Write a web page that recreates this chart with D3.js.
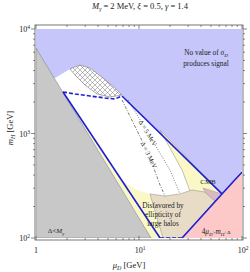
<!DOCTYPE html>
<html><head><meta charset="utf-8">
<script src="https://cdn.jsdelivr.net/npm/d3@7"></script>
<style>body{margin:0;background:#fff} svg{display:block} text{font-family:"Liberation Serif","DejaVu Serif",serif;fill:#222}</style>
</head><body>
<svg id="c" width="250" height="272"></svg>
<script>
// axis ticks
const xMajor=[1,10,100];
const yMajor=[100,1000,10000];
// regions, points are [mu_D (GeV), m_H (GeV)]
const blueRegion=[[1,10000],[100,10000],[100,447],[63.9,264],[6.84,2336],[5.85,2725],[4.47,3398],[3.34,4236],[2.67,4524],[2.14,4143],[1.53,3398],[1,3398]];
const grayRegion=[[1,100],[1,6580],[13.1,100]];
const yellowBand=[[1.64,2977],[13.1,100],[16.0,100],[1.83,2496]];
const lowerYellow=[[6.69,359],[16.0,100],[17.1,100],[12.79,264],[9.15,294]];
const cmbRegion=[[16.0,1080],[63.9,264],[54.7,226],[32.7,250],[26.2,447]];
const tanRegion=[[12.79,264],[17.1,100],[26.2,100],[54.7,226],[43.74,275],[32.7,288],[25.0,264],[17.88,252]];
const mauveRegion=[[41.8,301],[63.9,264],[54.7,226],[43.74,275]];
const pinkRegion=[[26.2,100],[100,428],[100,100]];
const hatchRegion=[[2.14,4143],[2.67,4524],[3.34,4236],[4.47,3398],[5.85,2725],[6.84,2336],[5.23,2236],[3.91,2388],[2.99,2912],[2.445,3550]];
const blueLineLeft=[[1.83,2496],[16.0,100]];
const blueDashTop=[[1.83,2496],[2.39,2388],[3.34,2285],[4.68,2187],[5.85,2139],[6.84,2285]];
const blueLineRight=[[6.84,2285],[63.9,264]];
const blueDashBottom=[[16.0,100],[26.2,100]];
const blueLinePink=[[26.2,100],[63.9,264],[100,428]];
const delta3Line=[[6.84,2093],[12.5,623],[16.0,321],[17.9,252]];
const delta5Line=[[7.82,2093],[12.23,1011],[20.0,447],[25.0,264]];

const svg=d3.select("#c");
const x=d3.scaleLog().domain([1,100]).range([36,242]);
const y=d3.scaleLog().domain([100,10000]).range([238,29]);
const line=d3.line().x(d=>x(d[0])).y(d=>y(d[1]));
const poly=pts=>line(pts)+"Z";

const defs=svg.append("defs");
defs.append("clipPath").attr("id","clip").append("rect")
  .attr("x",x(1)).attr("y",y(10000)).attr("width",x(100)-x(1)).attr("height",y(100)-y(10000));
const pat=defs.append("pattern").attr("id","hatch").attr("patternUnits","userSpaceOnUse")
  .attr("width",5).attr("height",5);
pat.append("rect").attr("width",5).attr("height",5).attr("fill","#fff");
pat.append("path").attr("d","M0,0L5,5M5,0L0,5").attr("stroke","#777").attr("stroke-width",0.5);

const g=svg.append("g").attr("clip-path","url(#clip)");
g.append("path").attr("d",poly(blueRegion)).attr("fill","#c6c6fa");
g.append("path").attr("d",poly(yellowBand)).attr("fill","#fbf8c8");
g.append("path").attr("d",poly(lowerYellow)).attr("fill","#fbf8c8");
g.append("path").attr("d",poly(cmbRegion)).attr("fill","#fbf8c8").attr("stroke","#999").attr("stroke-width",0.6);
g.append("path").attr("d",poly(tanRegion)).attr("fill","#e9dcc6").attr("stroke","#999").attr("stroke-width",0.6);
g.append("path").attr("d",poly(mauveRegion)).attr("fill","#d9b9c4").attr("stroke","#999").attr("stroke-width",0.5);
g.append("path").attr("d",poly(pinkRegion)).attr("fill","#fcc8c8");
g.append("path").attr("d",poly(grayRegion)).attr("fill","#c8c8c8").attr("stroke","#888").attr("stroke-width",0.6);
g.append("path").attr("d",poly(hatchRegion)).attr("fill","url(#hatch)").attr("stroke","#777").attr("stroke-width",0.6);

g.append("path").attr("d",line(delta3Line)).attr("fill","none").attr("stroke","#444").attr("stroke-width",0.7).attr("stroke-dasharray","3,1.5,1,1.5");
g.append("path").attr("d",line(delta5Line)).attr("fill","none").attr("stroke","#444").attr("stroke-width",0.7).attr("stroke-dasharray","1,1.5");

const bl=(d,dash)=>{const p=g.append("path").attr("d",line(d)).attr("fill","none").attr("stroke","#1e1ed2").attr("stroke-width",1.6);if(dash)p.attr("stroke-dasharray",dash);};
bl(blueLineLeft); bl(blueDashTop,"4,2"); bl(blueLineRight); bl(blueDashBottom,"4,2"); bl(blueLinePink);

// delta labels
function rotLabel(px,py,ang,txt){
  svg.append("text").attr("transform",`translate(${px},${py}) rotate(${ang})`).attr("text-anchor","middle")
   .attr("dy","0.35em").attr("font-size",6.5).attr("stroke","#fff").attr("stroke-width",2).attr("paint-order","stroke").text(txt);
}
rotLabel(148,133,59,"Δ = 5 MeV");
rotLabel(149,155,64,"Δ = 3 MeV");

// frame
svg.append("rect").attr("x",35).attr("y",25).attr("width",208).attr("height",215).attr("fill","none").attr("stroke","#555").attr("stroke-width",0.8);
// ticks
const xMinor=[];[1,10].forEach(b=>{for(let k=2;k<=9;k++)xMinor.push(b*k);});
const yMinor=[];[100,1000].forEach(b=>{for(let k=2;k<=9;k++)yMinor.push(b*k);});
const tk=svg.append("g").attr("stroke","#555").attr("stroke-width",0.7);
xMajor.forEach(v=>{tk.append("line").attr("x1",x(v)).attr("x2",x(v)).attr("y1",240).attr("y2",236);tk.append("line").attr("x1",x(v)).attr("x2",x(v)).attr("y1",25).attr("y2",29);});
xMinor.forEach(v=>{tk.append("line").attr("x1",x(v)).attr("x2",x(v)).attr("y1",240).attr("y2",238);tk.append("line").attr("x1",x(v)).attr("x2",x(v)).attr("y1",25).attr("y2",27);});
yMajor.forEach(v=>{tk.append("line").attr("y1",y(v)).attr("y2",y(v)).attr("x1",35).attr("x2",31);tk.append("line").attr("y1",y(v)).attr("y2",y(v)).attr("x1",243).attr("x2",247);});
yMinor.forEach(v=>{tk.append("line").attr("y1",y(v)).attr("y2",y(v)).attr("x1",35).attr("x2",33);tk.append("line").attr("y1",y(v)).attr("y2",y(v)).attr("x1",243).attr("x2",245);});

// tick labels
function pow10(t,v){const e=Math.round(Math.log10(v));if(e===0){t.text("1");return;}t.append("tspan").text("10");t.append("tspan").attr("dy",-3).attr("font-size",5.5).text(e);}
xMajor.forEach(v=>{const t=svg.append("text").attr("x",x(v)+(v===1?0:1)).attr("y",253).attr("text-anchor","middle").attr("font-size",8);pow10(t,v);});
yMajor.forEach(v=>{const t=svg.append("text").attr("x",30).attr("y",y(v)+3).attr("text-anchor","end").attr("font-size",8);pow10(t,v);});

// title
const tt=svg.append("text").attr("x",140).attr("y",9).attr("text-anchor","middle").attr("font-size",8.5);
tt.append("tspan").attr("font-style","italic").text("M");
tt.append("tspan").attr("font-style","italic").attr("font-size",5.5).attr("dy",1.5).text("γ");
tt.append("tspan").attr("dy",-1.5).text(" = 2 MeV, ");
tt.append("tspan").attr("font-style","italic").text("ξ");
tt.append("tspan").text(" = 0.5, ");
tt.append("tspan").attr("font-style","italic").text("γ");
tt.append("tspan").text(" = 1.4");

// axis labels
const xl=svg.append("text").attr("x",129).attr("y",268).attr("text-anchor","middle").attr("font-size",8.5);
xl.append("tspan").attr("font-style","italic").text("μ");
xl.append("tspan").attr("font-style","italic").attr("font-size",6).attr("dy",2).text("D");
xl.append("tspan").attr("dy",-2).text("  [GeV]");
const yl=svg.append("text").attr("transform","translate(13,128) rotate(-90)").attr("text-anchor","middle").attr("font-size",8.5);
yl.append("tspan").attr("font-style","italic").text("m");
yl.append("tspan").attr("font-style","italic").attr("font-size",6).attr("dy",2).text("H");
yl.append("tspan").attr("dy",-2).text("  [GeV]");

// region labels
const lab=(px,py,parts,fs)=>{const t=svg.append("text").attr("x",px).attr("y",py).attr("text-anchor","middle").attr("font-size",fs||7);parts.forEach(p=>{const s=t.append("tspan").text(p[0]);if(p[1])s.attr("font-style","italic");if(p[2])s.attr("font-size",5).attr("dy",p[2]);});return t;};
lab(206,55,[["No value of "],["σ",1],["D",1,1.5]],7.3);
lab(206,66,[["produces signal"]],7.3);
lab(208,184,[["CMB"]],7);
lab(163,208,[["Disfavored by"]],7.3);
lab(163,217,[["ellipticity of"]],7.3);
lab(163,226,[["large halos"]],7.3);
lab(216,234,[["4"],["μ",1],["D",1,1.5],[">",0,-1.5],["m",1],["H",1,1.5],["+Δ",0,-1.5]],7.3);
lab(56,233,[["Δ<"],["M",1],["γ",1,1.5]],7);
</script>
</body></html>
